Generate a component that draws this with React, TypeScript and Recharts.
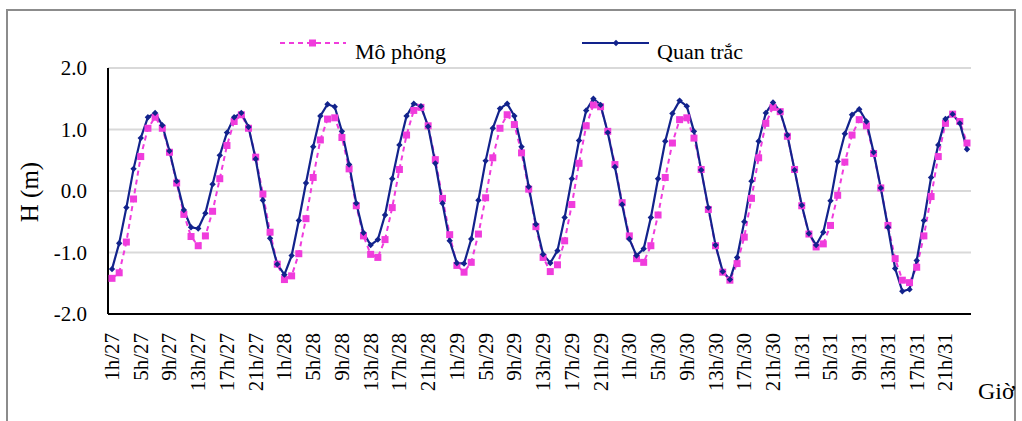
import React from 'react';
import { LineChart, Line, XAxis, YAxis, CartesianGrid, Legend } from 'recharts';

const days = [27, 28, 29, 30, 31];
const hoursOfDay = [1, 2, 3, 4, 5, 6, 7, 8, 9, 10, 11, 12, 13, 14, 15, 16, 17, 18, 19, 20, 21, 22, 23, 24];
const categories = days.flatMap((d) => hoursOfDay.map((h) => `${h}h/${d}`));

const simulated = [
  -1.42, -1.33, -0.83, -0.13, 0.56, 1.02, 1.2, 1.02, 0.63, 0.13, -0.38, -0.74, -0.89, -0.73, -0.33, 0.2, 0.74, 1.13, 1.24, 1.02, 0.55, -0.05, -0.67, -1.19,
  -1.44, -1.38, -1.02, -0.45, 0.22, 0.83, 1.17, 1.19, 0.87, 0.36, -0.24, -0.73, -1.03, -1.08, -0.79, -0.27, 0.35, 0.91, 1.31, 1.36, 1.06, 0.51, -0.12, -0.71,
  -1.21, -1.32, -1.16, -0.7, -0.11, 0.54, 1.02, 1.24, 1.08, 0.62, 0.03, -0.58, -1.08, -1.31, -1.2, -0.81, -0.22, 0.45, 1.06, 1.4, 1.37, 0.97, 0.43, -0.19,
  -0.73, -1.1, -1.16, -0.89, -0.39, 0.22, 0.78, 1.16, 1.19, 0.86, 0.35, -0.3, -0.89, -1.32, -1.45, -1.18, -0.75, -0.12, 0.54, 1.1, 1.36, 1.29, 0.89, 0.35,
  -0.24, -0.7, -0.91, -0.86, -0.56, -0.07, 0.47, 0.91, 1.16, 1.06, 0.61, 0.05, -0.56, -1.1, -1.45, -1.49, -1.24, -0.73, -0.09, 0.56, 1.1, 1.25, 1.13, 0.78,
];

const observed = [
  -1.27, -0.85, -0.27, 0.36, 0.86, 1.2, 1.27, 1.07, 0.65, 0.16, -0.31, -0.59, -0.61, -0.36, 0.11, 0.58, 0.95, 1.2, 1.27, 1.04, 0.52, -0.15, -0.77, -1.19,
  -1.36, -1.05, -0.48, 0.13, 0.72, 1.22, 1.41, 1.37, 0.97, 0.43, -0.2, -0.68, -0.88, -0.79, -0.39, 0.2, 0.75, 1.22, 1.42, 1.38, 1.05, 0.45, -0.2, -0.81,
  -1.17, -1.18, -0.78, -0.15, 0.49, 1.02, 1.34, 1.42, 1.22, 0.72, 0.07, -0.54, -1.03, -1.17, -0.97, -0.43, 0.2, 0.82, 1.31, 1.5, 1.4, 0.95, 0.39, -0.22,
  -0.78, -1.05, -0.94, -0.43, 0.2, 0.81, 1.26, 1.47, 1.38, 0.97, 0.34, -0.27, -0.88, -1.31, -1.44, -1.08, -0.5, 0.16, 0.81, 1.27, 1.44, 1.29, 0.91, 0.34,
  -0.23, -0.69, -0.88, -0.67, -0.16, 0.48, 0.93, 1.24, 1.33, 1.13, 0.63, 0.05, -0.59, -1.26, -1.63, -1.6, -1.13, -0.48, 0.22, 0.75, 1.17, 1.25, 1.1, 0.68,
];

const yTicks = [-2, -1, 0, 1, 2];
const seriesNames = { sim: 'Mô phỏng', obs: 'Quan trắc' };

const data = categories.map((t, i) => ({ t, sim: simulated[i], obs: observed[i] }));

const FONT = 'Liberation Serif';
const fontStyle = { fontFamily: FONT };
const MAGENTA = '#f03cdc';
const NAVY = '#12238c';

const SquareDot = (props: any) => {
  const { cx, cy, index } = props;
  if (cx == null || cy == null) return <g key={`s-${index}`} />;
  return <rect key={`s-${index}`} x={cx - 3.5} y={cy - 3.5} width={7} height={7} fill={MAGENTA} />;
};

const DiamondDot = (props: any) => {
  const { cx, cy, index } = props;
  if (cx == null || cy == null) return <g key={`d-${index}`} />;
  return (
    <path
      key={`d-${index}`}
      d={`M${cx},${cy - 3.2} L${cx + 3.2},${cy} L${cx},${cy + 3.2} L${cx - 3.2},${cy} Z`}
      fill={NAVY}
    />
  );
};

const XTick = (props: any) => {
  const { x, y, payload } = props;
  return (
    <text
      transform={`translate(${x},${y + 19}) rotate(-90)`}
      textAnchor="end"
      dominantBaseline="central"
      style={fontStyle}
      fontSize={21}
      fill="#000"
    >
      {payload.value}
    </text>
  );
};

const YTick = (props: any) => {
  const { x, y, payload } = props;
  return (
    <text x={x} y={y} dy="0.35em" textAnchor="end" style={fontStyle} fontSize={21} fill="#000">
      {Number(payload.value).toFixed(1)}
    </text>
  );
};

const renderLegend = () => (
  <svg width={1022} height={44} style={{ display: 'block' }}>
    <line x1={280} y1={19} x2={346} y2={19} stroke={MAGENTA} strokeWidth={2} strokeDasharray="5 4" />
    <rect x={309} y={15.5} width={7} height={7} fill={MAGENTA} />
    <text x={355} y={35} style={fontStyle} fontSize={22} fill="#000">
      {seriesNames.sim}
    </text>
    <line x1={582} y1={19} x2={649} y2={19} stroke={NAVY} strokeWidth={2} />
    <path d="M616,15.8 L619.2,19 L616,22.2 L612.8,19 Z" fill={NAVY} />
    <text x={657} y={35} style={fontStyle} fontSize={22} fill="#000">
      {seriesNames.obs}
    </text>
  </svg>
);

export default function App() {
  return (
    <div style={{ position: 'absolute', left: 0, top: 0, width: 1022, height: 421, background: '#fff', overflow: 'hidden' }}>
      <div
        style={{
          position: 'absolute',
          left: 6,
          top: 9,
          width: 1010,
          height: 440,
          border: '2px solid #8c8c8c',
          boxSizing: 'border-box',
        }}
      />
      <div style={{ position: 'absolute', left: 0, top: 0 }}>
        <LineChart width={1022} height={421} data={data} margin={{ top: 68, right: 51, bottom: 47, left: 48 }}>
          <CartesianGrid vertical={false} stroke="#d9d9d9" strokeWidth={2} />
          <XAxis
            dataKey="t"
            interval={3}
            height={60}
            padding={{ left: 4, right: 4 }}
            tickLine={false}
            tickSize={0}
            tickMargin={0}
            axisLine={{ stroke: '#000', strokeWidth: 2 }}
            tick={<XTick />}
            label={{
              content: () => (
                <text x={978} y={399} style={fontStyle} fontSize={24} fill="#000">
                  Giờ
                </text>
              ),
            }}
          />
          <XAxis
            xAxisId="top"
            dataKey="t"
            orientation="top"
            height={0}
            tick={false}
            tickLine={false}
            axisLine={{ stroke: '#000', strokeWidth: 2 }}
          />
          <YAxis
            domain={[-2, 2]}
            ticks={yTicks}
            width={60}
            tickLine={false}
            tickSize={0}
            tickMargin={21}
            tick={<YTick />}
            axisLine={{ stroke: '#000', strokeWidth: 2 }}
            label={{
              content: () => (
                <text
                  transform="translate(29,192) rotate(-90)"
                  textAnchor="middle"
                  dominantBaseline="central"
                  style={fontStyle}
                  fontSize={25}
                  fill="#000"
                >
                  H (m)
                </text>
              ),
            }}
          />
          <YAxis
            yAxisId="right"
            orientation="right"
            domain={[-2, 2]}
            width={0}
            tick={false}
            tickLine={false}
            axisLine={{ stroke: '#000', strokeWidth: 2 }}
          />
          <Legend verticalAlign="middle" layout="horizontal" wrapperStyle={{ top: 24, left: 0, width: 1022 }} content={renderLegend} />
          <Line
            dataKey="sim"
            name={seriesNames.sim}
            stroke={MAGENTA}
            strokeWidth={2}
            strokeDasharray="5 4"
            dot={SquareDot}
            activeDot={false}
            isAnimationActive={false}
          />
          <Line
            dataKey="obs"
            name={seriesNames.obs}
            stroke={NAVY}
            strokeWidth={2.2}
            dot={DiamondDot}
            activeDot={false}
            isAnimationActive={false}
          />
        </LineChart>
      </div>
    </div>
  );
}
